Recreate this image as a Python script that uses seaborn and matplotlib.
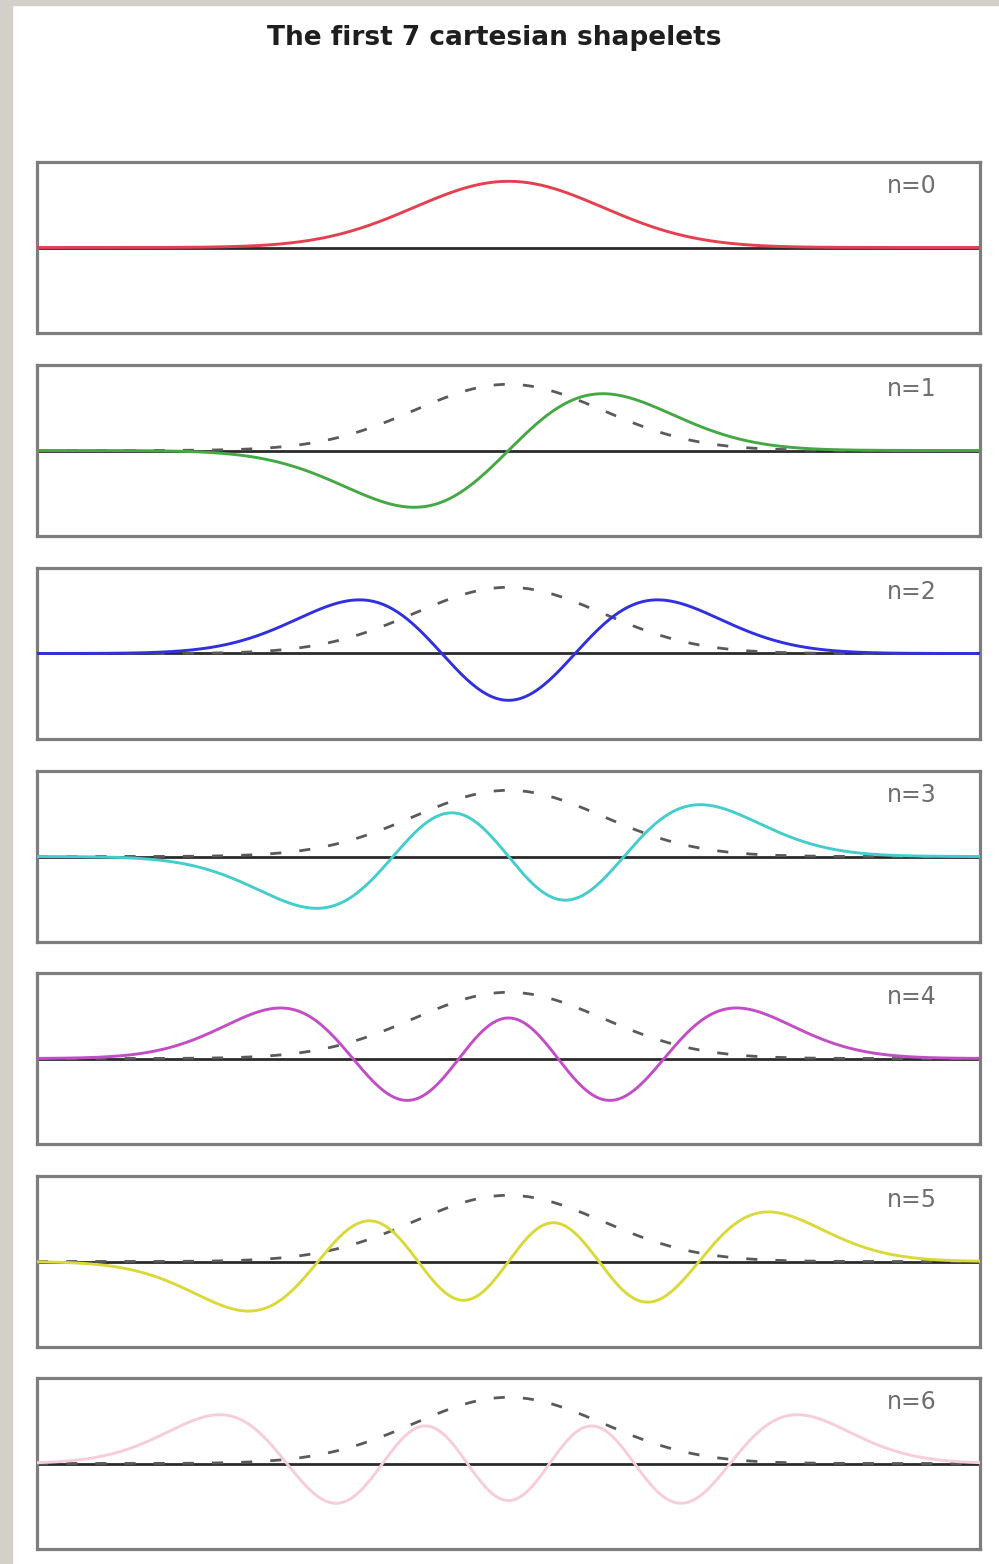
import numpy as np
import pandas as pd
import matplotlib
matplotlib.use("Agg")
import matplotlib.pyplot as plt
from matplotlib.patches import Rectangle
from numpy.polynomial import hermite as H
from math import factorial, pi, sqrt
import seaborn as sns

# Shapelet orders shown, one panel each, with their line colours
orders = [0, 1, 2, 3, 4, 5, 6]
colors = ["#e4404f", "#45a845", "#3030e0", "#45cccc", "#c24ec6", "#d9d93c", "#f7cdd9"]
labels = ["n=0", "n=1", "n=2", "n=3", "n=4", "n=5", "n=6"]
title = "The first 7 cartesian shapelets"

# Sampling range of the dimensionless coordinate x/beta
x_min, x_max = -5.0, 5.0
x = np.linspace(x_min, x_max, 600)


def shapelet(n, xs):
    """1D cartesian shapelet basis function of order n (beta = 1)."""
    coef = np.zeros(n + 1)
    coef[n] = 1.0
    norm = 1.0 / sqrt(2.0 ** n * sqrt(pi) * factorial(n))
    return norm * H.hermval(xs, coef) * np.exp(-xs ** 2 / 2.0)


frames = []
for n in orders:
    frames.append(pd.DataFrame({"x": x, "y": shapelet(n, x), "n": n}))
df = pd.concat(frames, ignore_index=True)
ground = df[df["n"] == 0]

sns.set_style("white")

W, Hpx = 999, 1564
fig = plt.figure(figsize=(W / 100, Hpx / 100), dpi=100)
fig.patch.set_facecolor("white")

# light grey frame strips along the left and top edges
fig.patches.append(Rectangle((0, 0), 12 / W, 1, transform=fig.transFigure,
                             color="#d3cfc9", zorder=-1))
fig.patches.append(Rectangle((0, 1 - 5 / Hpx), 1, 5 / Hpx, transform=fig.transFigure,
                             color="#d3cfc9", zorder=-1))

left, right = 37, 980
tops = [162, 365, 568, 771, 973, 1176, 1378]
height = 171

for i, n in enumerate(orders):
    top = tops[i]
    ax = fig.add_axes([left / W, 1 - (top + height) / Hpx,
                       (right - left) / W, height / Hpx])
    ax.set_facecolor("white")
    ax.axhline(0, color="#2a2a2a", lw=2.0, zorder=1)
    sub = df[df["n"] == n]
    sns.lineplot(data=sub, x="x", y="y", ax=ax, color=colors[i], lw=2.1,
                 zorder=3, estimator=None, sort=False)
    if n > 0:
        sns.lineplot(data=ground, x="x", y="y", ax=ax, color="#5a5a5a", lw=2.0,
                     dashes=False, estimator=None, sort=False, zorder=2,
                     linestyle=(0, (4.0, 6.5)))
    ax.set_xlim(x_min, x_max)
    ax.set_ylim(-0.97, 0.97)
    ax.set_xticks([])
    ax.set_yticks([])
    ax.set_xlabel("")
    ax.set_ylabel("")
    for s in ax.spines.values():
        s.set_visible(True)
        s.set_color("#7d7d7d")
        s.set_linewidth(2.3)
    ax.text(0.928, 0.86, labels[i], transform=ax.transAxes, ha="center",
            va="center", fontsize=17, color="#6e6e6e")

fig.text(0.495, 1 - 38 / Hpx, title, ha="center", va="center",
         fontsize=19, fontweight="bold", color="#1e1e1e")

fig.savefig("out.png", dpi=100)
